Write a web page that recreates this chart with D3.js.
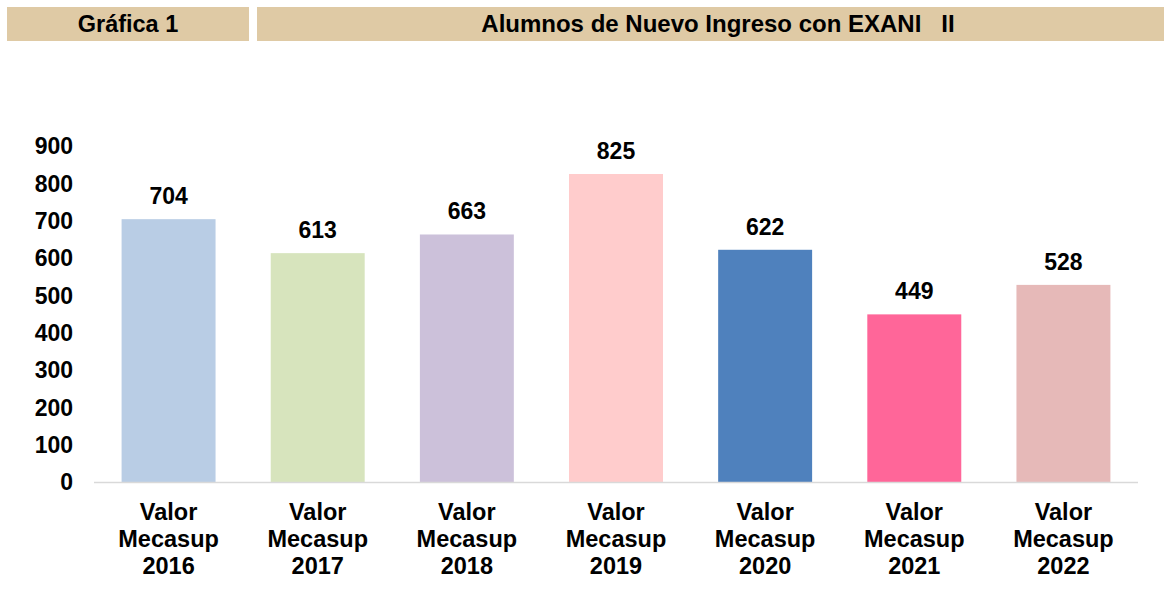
<!DOCTYPE html>
<html>
<head>
<meta charset="utf-8">
<script src="https://d3js.org/d3.v7.min.js"></script>
<style>
body { margin: 0; background: #fff; }
text { font-family: "Liberation Sans", Arial, sans-serif; font-weight: bold; fill: #000; }
</style>
</head>
<body>
<script>
var categories = ["2016", "2017", "2018", "2019", "2020", "2021", "2022"];
var values = [704, 613, 663, 825, 622, 449, 528];
var colors = ["#b9cde5", "#d7e4bd", "#ccc1da", "#ffcccc", "#4f81bd", "#ff6699", "#e6b9b8"];
var yTicks = [0, 100, 200, 300, 400, 500, 600, 700, 800, 900];
var headerLeft = "Gráfica 1";
var headerRight = "Alumnos de Nuevo Ingreso con EXANI\u00a0\u00a0\u00a0II";

var width = 1164, height = 592;
var svg = d3.select("body").append("svg")
  .attr("width", width).attr("height", height);

// header boxes
svg.append("rect").attr("x", 7).attr("y", 7).attr("width", 242).attr("height", 34).attr("fill", "#dfcaa5");
svg.append("rect").attr("x", 257).attr("y", 7).attr("width", 907).attr("height", 34).attr("fill", "#dfcaa5");
svg.append("text").attr("x", 128).attr("y", 32).attr("text-anchor", "middle")
  .style("font-size", "23.5px").text(headerLeft);
svg.append("text").attr("x", 718).attr("y", 32).attr("text-anchor", "middle")
  .style("font-size", "24px").text(headerRight);

var x = d3.scaleBand().domain(categories).range([94, 1138]).paddingInner(0.37).paddingOuter(0.185);
var y = d3.scaleLinear().domain([0, 900]).range([482, 146]);

// y axis labels
svg.append("g").selectAll("text").data(yTicks).enter().append("text")
  .attr("x", 73).attr("y", function(d) { return y(d); })
  .attr("dy", "0.36em").attr("text-anchor", "end")
  .style("font-size", "23px").text(function(d) { return d; });

// bars
svg.append("g").selectAll("rect").data(values).enter().append("rect")
  .attr("x", function(d, i) { return x(categories[i]); })
  .attr("y", function(d) { return y(d); })
  .attr("width", x.bandwidth())
  .attr("height", function(d) { return y(0) - y(d); })
  .attr("fill", function(d, i) { return colors[i]; });

// baseline
svg.append("line").attr("x1", 94).attr("x2", 1138).attr("y1", y(0) + 0.5).attr("y2", y(0) + 0.5)
  .attr("stroke", "#d9d9d9").attr("stroke-width", 1.5);

// value labels
svg.append("g").selectAll("text").data(values).enter().append("text")
  .attr("x", function(d, i) { return x(categories[i]) + x.bandwidth() / 2; })
  .attr("y", function(d) { return y(d) - 15; })
  .attr("text-anchor", "middle")
  .style("font-size", "23px").text(function(d) { return d; });

// category labels
var cat = svg.append("g").selectAll("text").data(categories).enter().append("text")
  .attr("text-anchor", "middle")
  .style("font-size", "23.5px");
cat.each(function(d) {
  var cx = x(d) + x.bandwidth() / 2;
  var t = d3.select(this);
  ["Valor", "Mecasup", d].forEach(function(s, k) {
    t.append("tspan").attr("x", cx).attr("y", 520 + k * 27).text(s);
  });
});
</script>
</body>
</html>
